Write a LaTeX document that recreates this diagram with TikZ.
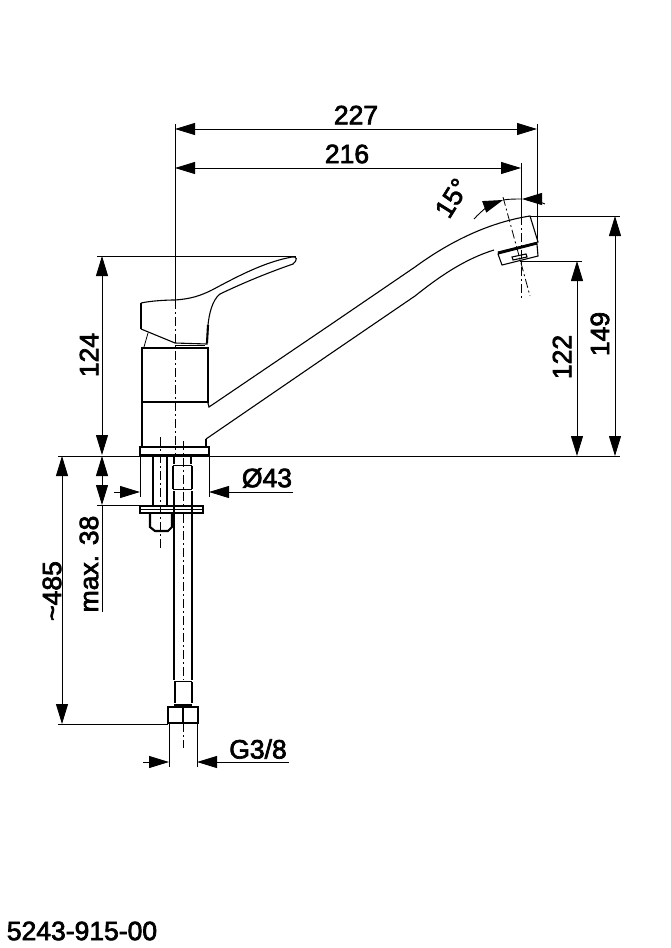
\documentclass[tikz,border=0pt]{standalone}
\usepackage{fontspec}
\setmainfont{Liberation Sans}
\newfontfamily\dimfont[FakeBold=2.6]{Liberation Sans}
\usetikzlibrary{arrows.meta}
\tikzset{
    >={Triangle[length=20pt,width=12pt]},
    dimline/.style={line width=0.9pt},
    thinline/.style={line width=0.8pt},
    outline/.style={line width=1.1pt},
    heavy/.style={line width=2.1pt},
    axisline/.style={line width=0.8pt,dash pattern=on 9pt off 3pt on 2pt off 3pt},
    dimtext/.style={font=\dimfont\fontsize{26.5}{26.5}\selectfont,inner sep=0pt},
}
\begin{document}
\begin{tikzpicture}[x=1pt,y=-1pt]
    \useasboundingbox (0,0) rectangle (670,948);
    % lever
    \draw[outline] (141,303) .. controls (150,301) and (165,300) .. (175,300)
        .. controls (190,299) and (200,296) .. (212,290)
        .. controls (240,275) and (265,262) .. (292,257)
        .. controls (297,256) and (298,260) .. (293,264)
        .. controls (270,272) and (245,282) .. (220,294)
        .. controls (212,300) and (209,315) .. (208,325)
        -- (207,344) -- (175,343) -- (141,329);
    \draw[heavy] (141,303)--(141,329);
    \draw[heavy] (208,325)--(207,343);
    \draw[thinline] (148,333)--(144,347);
    \draw[thinline] (175,345)--(205,345);
    % body
    \draw[heavy] (208,403)--(208,348)--(142,348)--(142,447);
    \draw[heavy] (142,402)--(208,402);
    \draw[outline] (206,439)--(206,447);
    % spout
    \draw[outline] (208,403)--(209,407)--(330,325)--(415,267)
        .. controls (445,245) and (485,223) .. (530,216)
        -- (538,242) -- (498,252);
    \draw[outline] (206,439)--(330,354)--(415,296)
        .. controls (440,276) and (465,259) .. (494,250);
    % aerator
    \draw[outline] (498,254)--(537,244)--(538,256) -- (502,265) --cycle;
    \draw[heavy] (498,253)--(537,243);
    \draw[outline] (512,257)--(526,254)--(527,257)--(513,260)--cycle;
    % flange
    \draw[heavy] (140,447) rectangle (209,455);
    % stud and plate
    \draw[heavy] (153,456)--(153,506);
    \draw[heavy] (167,456)--(167,506);
    \draw[heavy] (140,506) rectangle (203,513);
    \draw[thinline] (140,509)--(203,509);
    \draw[heavy] (150,514)--(150,527)--(155,531)--(168,531)--(172,527)--(172,514);
    % hose
    \draw[heavy] (174,456)--(174,464) (191,456)--(191,464);
    \draw[heavy] (173,466)--(173,489) (192,466)--(192,489);
    \draw[heavy] (174,491)--(174,680) (192,491)--(192,680);
    \draw[thinline] (173,465)--(192,465) (173,489)--(192,489);
    \draw[heavy] (175,682)--(175,703) (192,682)--(192,703);
    \draw[thinline] (174,681)--(192,681);
    \draw[line width=2.6pt] (174,705)--(192,705);
    % connection nut
    \draw[heavy] (168,707) rectangle (198,723);
    \draw[heavy] (183,707)--(183,723);
    % centre lines
    \draw[thinline] (175,124)--(175,300);
    \draw[axisline] (175,300)--(175,455);
    \draw[axisline] (160.5,437)--(160.5,549);
    \draw[axisline] (183,441)--(183,506);
    \draw[axisline] (183,514)--(183,680);
    \draw[axisline] (183,723)--(183,748);
    \draw[thinline] (521,163)--(521,216);
    \draw[axisline] (521,216)--(521,300);
    \draw[axisline] (503,197)--(530,296);
    % extension lines
    \draw[dimline] (97,256)--(296,256);
    \draw[dimline] (58,456)--(620,456);
    \draw[dimline] (97,505)--(140,505);
    \draw[dimline] (58,724)--(168,724);
    \draw[dimline] (537,124)--(537,242);
    \draw[dimline] (530,216)--(620,216);
    \draw[dimline] (520,261)--(582,261);
    \draw[thinline] (140,447)--(140,497) (209,447)--(209,497);
    \draw[thinline] (169,723)--(169,767) (197,723)--(197,767);
    % dimensions
    \draw[dimline,<->] (175,129)--(537,129);
    \draw[dimline,<->] (175,168)--(521,168);
    \draw[dimline,<->] (102,256)--(102,455);
    \draw[dimline,<->] (62,456)--(62,724);
    \draw[dimline,<->] (615,216)--(615,456);
    \draw[dimline,<->] (577,261)--(577,456);
    \draw[dimline,<->] (102,456)--(102,505);
    \draw[dimline] (102,505)--(102,612);
    \draw[dimline,->] (114,492)--(140,492);
    \draw[dimline,->] (293,492)--(209,492);
    \draw[dimline,->] (143,762)--(169,762);
    \draw[dimline,->] (289,762)--(197,762);
    % angle
    \draw[dimline,->] (474,219) .. controls (482,210) and (492,204) .. (503,200);
    \draw[dimline,->] (545,204) .. controls (538,201) and (530,199) .. (522,199);
    \draw[dimline] (503,200) .. controls (509,199) and (515,199) .. (522,199);
    % labels
    \node[dimtext] (dimA) at (356,115) {227};
    \node[dimtext] (dimB) at (347,154) {216};
    \node[dimtext,rotate=58] (angA) at (452,198) {15°};
    \node[dimtext,rotate=90] (dimC) at (89,355) {124};
    \node[dimtext,rotate=90] (dimD) at (562,357) {122};
    \node[dimtext,rotate=90] (dimE) at (600,334) {149};
    \node[dimtext] (dimF) at (267,478) {Ø43};
    \node[dimtext,rotate=90] (dimG) at (89,564) {max. 38};
    \node[dimtext,rotate=90] (dimH) at (52,591) {\textasciitilde 485};
    \node[dimtext] (dimI) at (258,749) {G3/8};
    \node[dimtext] (partno) at (82,931) {5243-915-00};
\end{tikzpicture}
\end{document}
